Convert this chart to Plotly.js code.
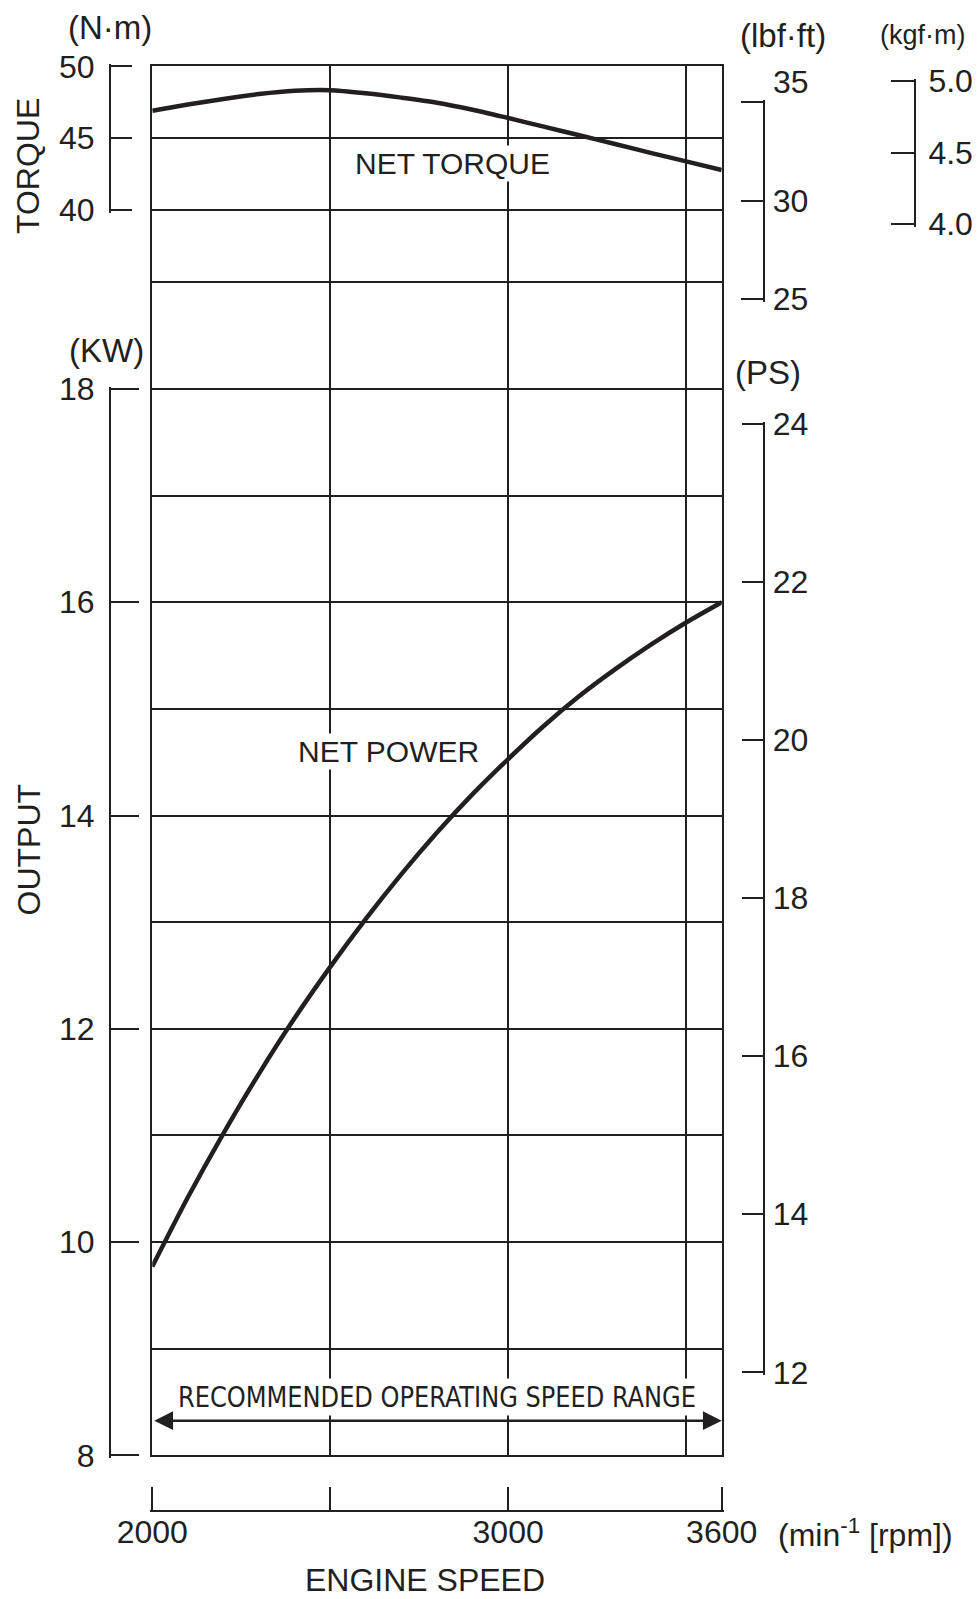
<!DOCTYPE html>
<html>
<head>
<meta charset="utf-8">
<script src="https://cdn.plot.ly/plotly-3.0.1.min.js"></script>
<style>
html,body{margin:0;padding:0;background:#fff;}
#chart{width:979px;height:1599px;}
</style>
</head>
<body>
<div id="chart"></div>
<script>
// ---- data ----
const rpm = [2000,2100,2200,2300,2400,2500,2600,2700,2800,2900,3000,3100,3200,3300,3400,3500,3600];
const netTorqueNm = [46.91,47.34,47.73,48.07,48.3,48.34,48.12,47.82,47.47,46.98,46.4,45.8,45.2,44.59,43.98,43.38,42.78];
const netPowerKW = [9.77,10.42,11.02,11.58,12.1,12.58,13.03,13.45,13.84,14.2,14.53,14.84,15.12,15.37,15.6,15.81,16.0];

const torqueNmTicks = [40,45,50];
const torqueLbfTicks = [25,30,35];
const torqueLbfLabels = ['25','30',''];
const torqueKgfTicks = [4.0,4.5,5.0];
const outputKWTicks = [8,10,12,14,16,18];
const outputPSTicks = [12,14,16,18,20,22,24];
const speedTicks = [2000,2500,3000,3600];
const speedLabels = ['2000','','3000','3600'];

const kwGrid = [9,10,11,12,13,14,15,16,17,18];
const nmGrid = [35,40,45];
const rpmGrid = [2500,3000,3500];

const RANGE_LABEL = 'RECOMMENDED OPERATING SPEED RANGE';

// unit conversions
const NM_PER_LBFFT = 1.35582;
const NM_PER_KGFM = 9.80665;
const PS_PER_KW = 1.35962;

// ---- geometry (pixels of the 979x1599 page) ----
const W = 979, H = 1599;
const px = v => v / W;
const py = v => 1 - v / H;
const L = 152.3, R = 721.7, T = 66.3, B = 1455.3;
const yKW18 = 389, yKW8 = 1455.3;
const pxPerKW = (yKW8 - yKW18) / 10;
const kwTop = 8 + (B - T) / pxPerKW;
const yNm40 = 210, yNm50 = 66.3;
const pxPerNm = (yNm40 - yNm50) / 10;
const nmBottom = 50 - (B - T) / pxPerNm;
const PAD = 2.5; // keeps end ticks from being clipped

const INK = '#231f20';
const FONT = 'Liberation Sans, Arial, Helvetica, sans-serif';
const NARROW = 'Liberation Sans Narrow, Arial Narrow, DejaVu Sans Condensed, Liberation Sans, sans-serif';

const curveLine = {color: INK, width: 4.5, shape: 'spline', smoothing: 0.8};
const hidden = {mode: 'lines', opacity: 0, line: {width: 1, color: INK}, hoverinfo: 'skip'};

const traces = [
  {x: rpm, y: netPowerKW, xaxis: 'x', yaxis: 'y', mode: 'lines', line: curveLine, hoverinfo: 'skip'},
  {x: rpm, y: netTorqueNm, xaxis: 'x', yaxis: 'y2', mode: 'lines', line: curveLine, hoverinfo: 'skip'},
  // same series expressed on the secondary unit scales (transparent, they only carry the scales)
  Object.assign({x: rpm, y: netTorqueNm, xaxis: 'x', yaxis: 'y3'}, hidden),
  Object.assign({x: rpm, y: netPowerKW, xaxis: 'x2', yaxis: 'y4'}, hidden),
  Object.assign({x: rpm, y: netTorqueNm.map(v => v / NM_PER_LBFFT), xaxis: 'x', yaxis: 'y5'}, hidden),
  Object.assign({x: rpm, y: netTorqueNm.map(v => v / NM_PER_KGFM), xaxis: 'x', yaxis: 'y6'}, hidden),
  Object.assign({x: rpm, y: netPowerKW.map(v => v * PS_PER_KW), xaxis: 'x', yaxis: 'y7'}, hidden)
];

// bracket axis: pixel rows of its lowest and highest tick, and their values
const bracketY = (pLow, pHigh, vLow, vHigh, pos, side, tickvals, ticklen, standoff, extra) => {
  const dv = PAD * (vHigh - vLow) / (pLow - pHigh);
  return Object.assign({
    anchor: 'free', position: pos, side: side,
    domain: [py(pLow + PAD), py(pHigh - PAD)], range: [vLow - dv, vHigh + dv],
    tickmode: 'array', tickvals: tickvals, ticks: 'inside', ticklen: ticklen,
    tickwidth: 2, tickcolor: INK, showline: true, linecolor: INK, linewidth: 2,
    showgrid: false, zeroline: false, fixedrange: true,
    tickfont: {family: FONT, size: 32, color: INK}, ticklabelstandoff: standoff
  }, extra || {});
};

const dRpm = PAD * 1600 / (R - L);

const layout = {
  width: W, height: H,
  margin: {l: 0, r: 0, t: 0, b: 0, pad: 0},
  paper_bgcolor: '#fff', plot_bgcolor: 'rgba(0,0,0,0)',
  showlegend: false,
  font: {family: FONT, color: INK, size: 32},
  xaxis: {
    domain: [px(L), px(R)], range: [2000, 3600], anchor: 'y',
    tickmode: 'array', tickvals: rpmGrid, showticklabels: false, ticks: '',
    showgrid: true, gridcolor: INK, gridwidth: 2,
    showline: true, mirror: true, linecolor: INK, linewidth: 2, zeroline: false, fixedrange: true
  },
  yaxis: {
    domain: [py(B), py(T)], range: [8, kwTop], anchor: 'x',
    tickmode: 'array', tickvals: kwGrid, showticklabels: false, ticks: '',
    showgrid: true, gridcolor: INK, gridwidth: 2,
    showline: true, mirror: true, linecolor: INK, linewidth: 2, zeroline: false, fixedrange: true
  },
  yaxis2: {
    overlaying: 'y', anchor: 'x', side: 'left', range: [nmBottom, 50],
    tickmode: 'array', tickvals: nmGrid, showticklabels: false, ticks: '',
    showgrid: true, gridcolor: INK, gridwidth: 2, showline: false, zeroline: false, fixedrange: true
  },
  // torque N·m bracket
  yaxis3: bracketY(yNm40, yNm50, 40, 50, px(110), 'left', torqueNmTicks, 21, 8),
  // output kW bracket
  yaxis4: bracketY(yKW8, yKW18, 8, 18, px(110), 'left', outputKWTicks, 28, 8),
  // torque lbf·ft bracket
  yaxis5: bracketY(299, 102.3, 25, 35, px(764.3), 'right', torqueLbfTicks, 22, 1,
                   {ticktext: torqueLbfLabels}),
  // torque kgf·m bracket
  yaxis6: bracketY(224, 81, 4, 5, px(915), 'right', torqueKgfTicks, 23, 6,
                   {tickformat: '.1f'}),
  // output PS bracket
  yaxis7: bracketY(1372.3, 424, 12, 24, px(764.3), 'right', outputPSTicks, 21, 1),
  // separate engine speed scale
  xaxis2: {
    anchor: 'free', position: py(1511), domain: [px(L - PAD), px(R + PAD)],
    range: [2000 - dRpm, 3600 + dRpm], side: 'bottom',
    tickmode: 'array', tickvals: speedTicks, ticktext: speedLabels, ticks: 'inside', ticklen: 23,
    tickwidth: 2, tickcolor: INK, showline: true, linecolor: INK, linewidth: 2,
    showgrid: false, zeroline: false, fixedrange: true,
    tickfont: {family: FONT, size: 32, color: INK}, ticklabelstandoff: -7
  },
  annotations: []
};

const ann = (text, x, y, opts) => Object.assign({
  text: text, xref: 'paper', yref: 'paper', x: px(x), y: py(y),
  xanchor: 'center', yanchor: 'middle', showarrow: false,
  font: {family: FONT, size: 32, color: INK}
}, opts || {});
const unitFont = {family: FONT, size: 33, color: INK};

layout.annotations.push(
  ann('(N·m)', 109.5, 28, {font: unitFont}),
  ann('TORQUE', 28, 166, {textangle: -90}),
  ann('(lbf·ft)', 782.5, 35, {font: unitFont}),
  ann('(kgf·m)', 922.5, 35, {font: {family: FONT, size: 27, color: INK}}),
  ann('35', 791, 82),
  ann('(KW)', 106, 351, {font: unitFont}),
  ann('(PS)', 768, 372, {font: unitFont}),
  ann('OUTPUT', 28.5, 850, {textangle: -90}),
  ann('NET TORQUE', 452, 163, {font: {family: FONT, size: 30, color: INK}, bgcolor: '#fff'}),
  ann('NET POWER', 388, 751, {font: {family: FONT, size: 30, color: INK}, bgcolor: '#fff'}),
  ann(RANGE_LABEL, 437, 1396.7,
      {font: {family: NARROW, size: 29, color: INK}, bgcolor: '#fff', width: 526}),
  ann('(min<sup>-1</sup> [rpm])', 865, 1533),
  ann('ENGINE SPEED', 425, 1599, {yanchor: 'bottom', borderpad: 0,
      font: {family: FONT, size: 32, color: INK}})
);

// double-headed arrow across the recommended speed range
const arrowKW = 8 + (B - 1420.7) / pxPerKW;
layout.annotations.push({
  text: ' ', xref: 'x', yref: 'y', x: speedTicks[speedTicks.length - 1], y: arrowKW,
  axref: 'x', ayref: 'y', ax: speedTicks[0], ay: arrowKW,
  showarrow: true, arrowside: 'end+start', arrowhead: 2, arrowsize: 1.5, arrowwidth: 2.5,
  arrowcolor: INK, standoff: 0, startstandoff: 0, font: {size: 4}
});

Plotly.newPlot('chart', traces, layout, {staticPlot: true, displayModeBar: false}).then(gd => {
  // the reference sets this label in a condensed face: fit it to its printed length
  gd.querySelectorAll('.annotation-text').forEach(t => {
    if (t.textContent === RANGE_LABEL) {
      t.setAttribute('textLength', 518);
      t.setAttribute('lengthAdjust', 'spacingAndGlyphs');
    }
  });
});
</script>
</body>
</html>
